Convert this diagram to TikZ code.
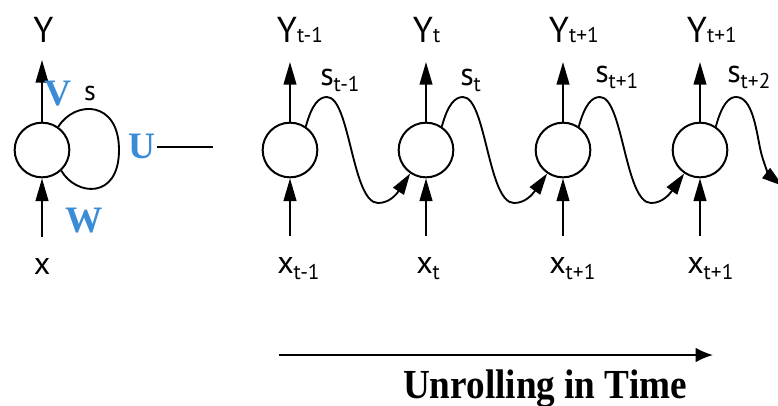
\documentclass[tikz,border=0pt]{standalone}
\usepackage{fontspec}
\usepackage{graphicx}
\setmainfont{Liberation Serif}
\newfontfamily\labfont{PT Sans}
\usetikzlibrary{arrows.meta}
\definecolor{wblue}{RGB}{58,140,215}
\newcommand\ysub[1]{\rlap{\fontsize{16}{16}\selectfont #1}}
\newcommand\lsub[1]{\rlap{\raisebox{-4.5pt}{\fontsize{16}{16}\selectfont #1}}}
\begin{document}
\begin{tikzpicture}[x=0.75pt,y=-0.75pt,
  cell/.style={circle,draw,line width=1.5pt,minimum size=41pt,inner sep=0pt},
  arr/.style={line width=1.5pt,-{Triangle[length=17pt,width=9.5pt]}},
  carr/.style={line width=1.4pt,-{Triangle[length=16pt,width=9.5pt]}},
  plain/.style={line width=1.4pt},
  ylab/.style={anchor=base,inner sep=0pt,font=\labfont\fontsize{27}{27}\selectfont},
  slab/.style={anchor=base,inner sep=0pt,font=\labfont\fontsize{24}{24}\selectfont},
  wlab/.style={anchor=base,inner sep=1.5pt,text=wblue,font=\bfseries\fontsize{28}{28}\selectfont},
  timearr/.style={line width=1.5pt,-{Latex[length=13pt,width=11pt]}}
]
\useasboundingbox (0,0) rectangle (778,405);

% ---- folded network ----
\node[cell] (c0) at (42,150) {};
\coordinate (t0) at (42,60);
\coordinate (b0) at (42,237);
\draw[arr] (c0.north) -- (t0);
\draw[arr] (b0) -- (c0.south);
\node[ylab] (y0) at (43.5,42) {Y};
\node[slab,font=\labfont\fontsize{21}{21}\selectfont] (s0) at (90,100) {s};
\node[slab] (x0) at (42,274) {x};
\node[wlab] (V) at (57.5,105) {V};
\node[wlab] (U) at (141.5,158) {U};
\node[wlab] (W) at (84,232) {W};
\draw[plain] (c0.55) .. controls (75,100) and (119,100) .. (119,150)
             .. controls (119,200) and (76,196) .. (c0.-47);
\coordinate (uend) at (213,147);
\draw[plain] (U.east |- uend) -- (uend);

% ---- unrolled network ----
\foreach \i/\cx in {1/290,2/426,3/563,4/700}{
  \node[cell] (c\i) at (\cx,150) {};
  \coordinate (t\i) at (\cx,62);
  \coordinate (b\i) at (\cx,236);
  \draw[arr] (c\i.north) -- (t\i);
  \draw[arr] (b\i) -- (c\i.south);
}
\node[ylab] (y1) at (287,42) {Y\ysub{t-1}};
\node[ylab] (y2) at (423,42) {Y\ysub{t}};
\node[ylab] (y3) at (559,42) {Y\ysub{t+1}};
\node[ylab] (y4) at (697,42) {Y\ysub{t+1}};

\node[slab] (s1) at (327,85) {s\lsub{t-1}};
\node[slab] (s2) at (467,85) {s\lsub{t}};
\node[slab] (s3) at (602,82) {s\lsub{t+1}};
\node[slab] (s4) at (734,82) {s\lsub{t+2}};

\node[slab] (x1) at (285.5,273) {x\lsub{t-1}};
\node[slab] (x2) at (424.5,273) {x\lsub{t}};
\node[slab] (x3) at (557.5,273) {x\lsub{t+1}};
\node[slab] (x4) at (695.5,273) {x\lsub{t+1}};

\foreach \a/\b/\cx in {1/2/290,2/3/426,3/4/563}{
  \draw[carr] (c\a.56) .. controls (\cx+22,104) and (\cx+29,97) .. (\cx+37,97)
     .. controls (\cx+60,97) and (\cx+62,203) .. (\cx+88,203)
     .. controls (\cx+99,203) and (\cx+106,195) .. (c\b.236);
}
\coordinate (send) at (783,186);
\draw[carr] (c4.56) .. controls (722,104) and (729,97) .. (736,97)
   .. controls (752,97) and (756,128) .. (760,148)
   .. controls (763,163) and (770,176) .. (send);

% ---- time arrow ----
\coordinate (ts) at (279,355);
\coordinate (te) at (713,355);
\draw[timearr] (ts) -- (te);
\node[anchor=base,inner sep=0pt] (title) at (545,398)
  {\scalebox{0.9}[1]{\fontsize{31}{31}\selectfont\bfseries Unrolling in Time}};
\end{tikzpicture}
\end{document}
